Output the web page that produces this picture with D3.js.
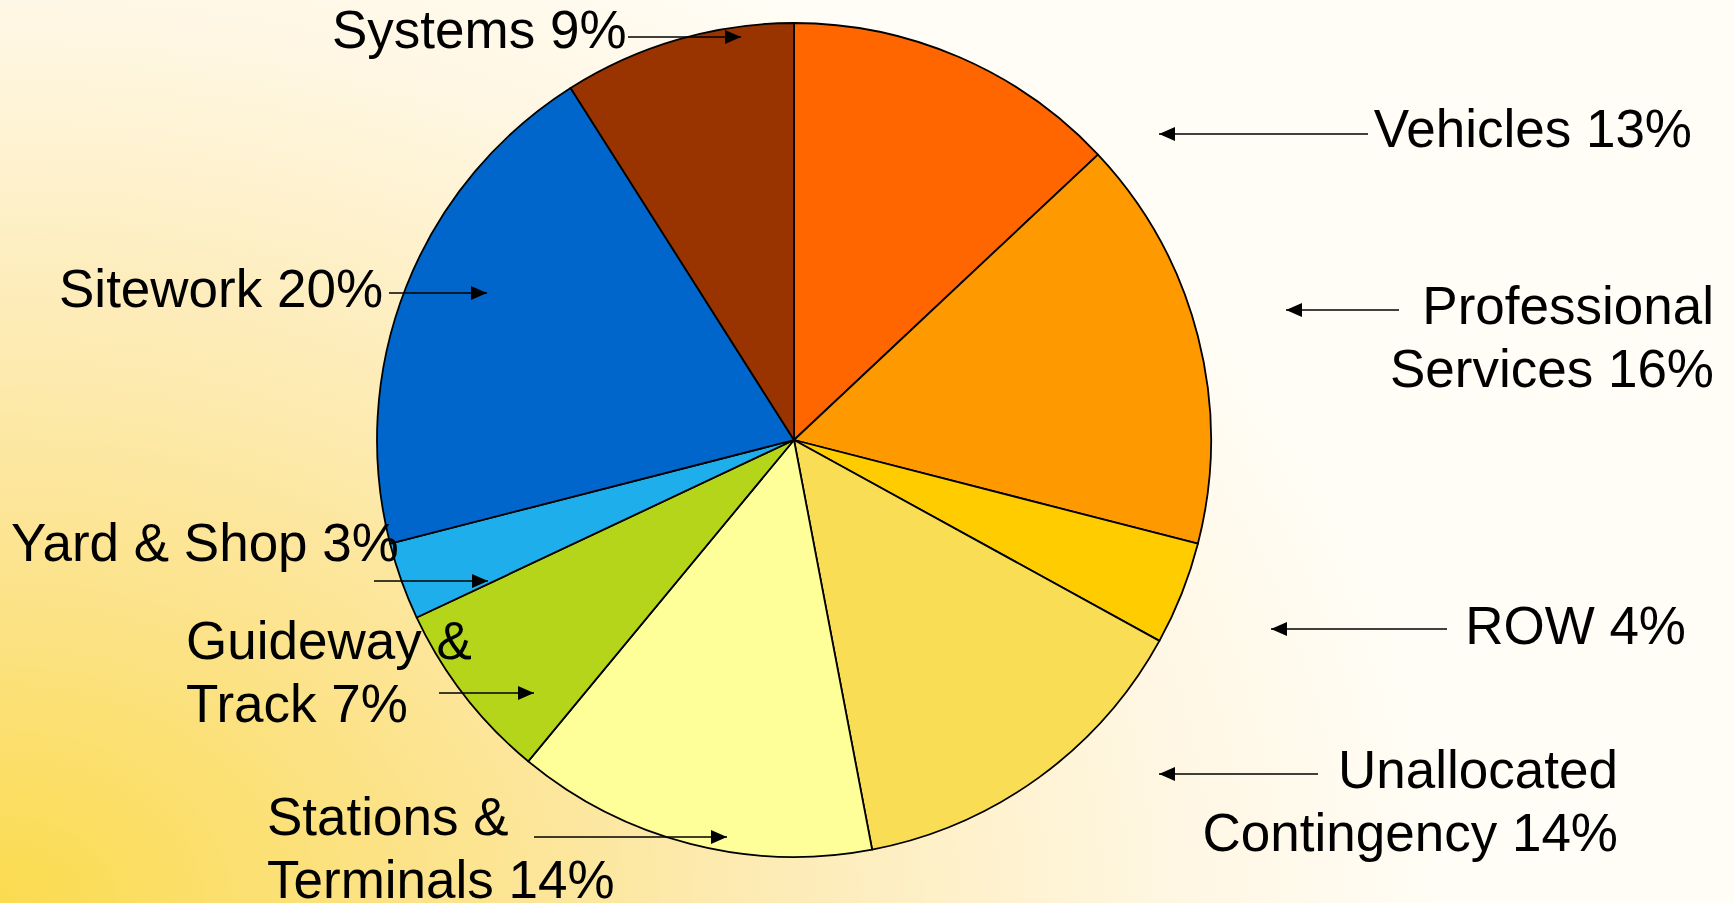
<!DOCTYPE html>
<html lang="en">
<head>
  <meta charset="UTF-8">
  <title>Capital Cost Breakdown</title>
  <script src="https://cdnjs.cloudflare.com/ajax/libs/d3/7.8.5/d3.min.js"></script>
  <style>
    html, body {
      margin: 0;
      padding: 0;
      overflow: hidden;
    }
    svg {
      display: block;
    }
    .label {
      font-family: Arial, "Liberation Sans", sans-serif;
      font-size: 53px;
      fill: #000;
    }
  </style>
</head>
<body>

<svg id="chart" width="1734" height="903"></svg>

<script>
  // Slice data, clockwise from 12 o'clock
  const categories = ["Vehicles", "Professional Services", "ROW", "Unallocated Contingency",
                      "Stations & Terminals", "Guideway & Track", "Yard & Shop", "Sitework", "Systems"];
  const shares = [13, 16, 4, 14, 14, 7, 3, 20, 9];
  const colors = ["#ff6600", "#ff9900", "#ffcc00", "#f9dd55",
                  "#ffff99", "#b5d51b", "#1eaeec", "#0066cc", "#993300"];
  const labelLines = [
    ["Vehicles 13%"],
    ["Professional", "Services 16%"],
    ["ROW 4%"],
    ["Unallocated", "Contingency 14%"],
    ["Stations &", "Terminals 14%"],
    ["Guideway &", "Track 7%"],
    ["Yard & Shop 3%"],
    ["Sitework 20%"],
    ["Systems 9%"]
  ];

  // Label layout (text anchor point, first baseline) and callout arrows
  const labelLayout = [
    { x: 1692, y: 147, anchor: "end",   arrow: [1368, 134, 1159, 134] },
    { x: 1714, y: 324, anchor: "end",   arrow: [1399, 310, 1286, 310] },
    { x: 1686, y: 644, anchor: "end",   arrow: [1447, 629, 1271, 629] },
    { x: 1618, y: 788, anchor: "end",   arrow: [1318, 774, 1159, 774] },
    { x: 267,  y: 835, anchor: "start", arrow: [534, 837, 727, 837] },
    { x: 186,  y: 659, anchor: "start", arrow: [439, 693, 534, 693] },
    { x: 11,   y: 561, anchor: "start", arrow: [374, 581, 488, 581] },
    { x: 59,   y: 307, anchor: "start", arrow: [389, 293, 487, 293] },
    { x: 332,  y: 48,  anchor: "start", arrow: [628, 37, 741, 37] }
  ];
  const lineStep = 63;

  const svg = d3.select("#chart"),
        width = +svg.attr("width"),
        height = +svg.attr("height"),
        cx = 794, cy = 440, radius = 417;

  // Background: yellow from the lower-left corner fading to cream/white
  const defs = svg.append("defs");
  const grad = defs.append("radialGradient")
    .attr("id", "bg")
    .attr("gradientUnits", "userSpaceOnUse")
    .attr("cx", 0).attr("cy", 0).attr("r", 1)
    .attr("gradientTransform", `translate(0, ${height}) scale(1450, 1080)`);
  [[0, "#fbdb4e"], [0.3, "#fce38c"], [0.55, "#fdecb8"], [0.82, "#fff7e4"], [1, "#fffdf6"]].forEach(([o, c]) => {
    grad.append("stop").attr("offset", o).attr("stop-color", c);
  });

  defs.append("marker")
    .attr("id", "arrowhead")
    .attr("viewBox", "0 0 16 14")
    .attr("refX", 16).attr("refY", 7)
    .attr("markerWidth", 16).attr("markerHeight", 14)
    .attr("markerUnits", "userSpaceOnUse")
    .attr("orient", "auto")
    .append("path")
    .attr("d", "M0,0 L16,7 L0,14 Z")
    .attr("fill", "#000");

  svg.append("rect")
    .attr("width", width)
    .attr("height", height)
    .attr("fill", "url(#bg)");

  const pie = d3.pie().sort(null).value(d => d)(shares);
  const arc = d3.arc().innerRadius(0).outerRadius(radius);

  svg.append("g")
    .attr("transform", `translate(${cx},${cy})`)
    .selectAll("path")
    .data(pie)
    .join("path")
    .attr("d", arc)
    .attr("fill", (d, i) => colors[i])
    .attr("stroke", "#000")
    .attr("stroke-width", 1.8)
    .attr("stroke-linejoin", "round");

  // Callout arrows
  svg.append("g")
    .selectAll("line")
    .data(labelLayout)
    .join("line")
    .attr("x1", d => d.arrow[0])
    .attr("y1", d => d.arrow[1])
    .attr("x2", d => d.arrow[2])
    .attr("y2", d => d.arrow[3])
    .attr("stroke", "#000")
    .attr("stroke-width", 1.6)
    .attr("marker-end", "url(#arrowhead)");

  // Labels
  const labels = svg.append("g")
    .selectAll("text")
    .data(labelLayout)
    .join("text")
    .attr("class", "label")
    .attr("text-anchor", d => d.anchor)
    .attr("x", d => d.x)
    .attr("y", d => d.y);

  labels.each(function(d, i) {
    d3.select(this).selectAll("tspan")
      .data(labelLines[i])
      .join("tspan")
      .attr("x", d.x)
      .attr("dy", (t, j) => j === 0 ? 0 : lineStep)
      .text(t => t);
  });
</script>

</body>
</html>
